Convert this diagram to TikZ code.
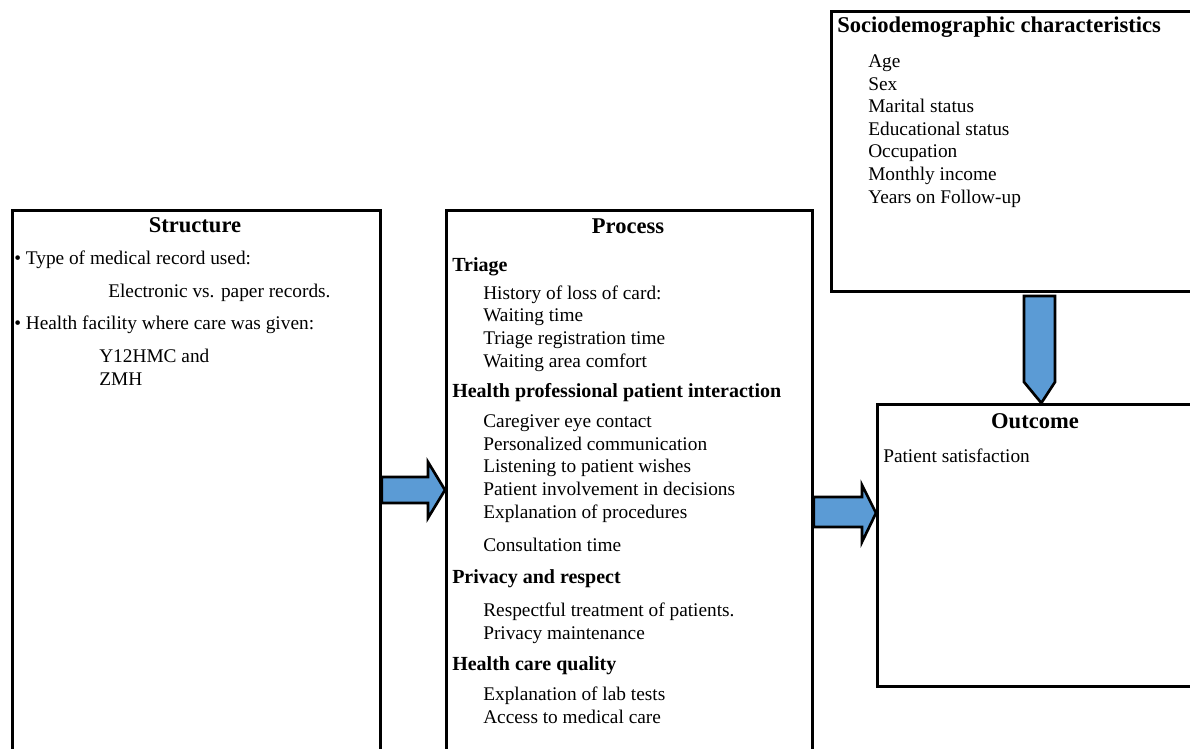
\documentclass[tikz,border=0pt]{standalone}
\usepackage{fontspec}
\setmainfont{Liberation Serif}
\definecolor{arrowblue}{HTML}{5B9BD5}

\begin{document}
\begin{tikzpicture}
  [x=0.75pt,y=-0.75pt,
   box/.style={rectangle, draw, line width=2pt, anchor=north west, inner sep=0pt},
   title/.style={font=\fontsize{16.9}{20}\selectfont\bfseries, anchor=base, inner sep=0pt},
   subhead/.style={font=\fontsize{15}{18}\selectfont\bfseries, anchor=base west, inner sep=0pt},
   items/.style={font=\fontsize{14.5}{16.9}\selectfont, align=left, anchor=base west, inner sep=0pt},
   bigarrow/.style={draw, line width=2pt, fill=arrowblue}]
  \useasboundingbox (0,0) rectangle (1190,749);
  \clip (0,0) rectangle (1190,749);

  % the four boxes
  \node[box, minimum width=276pt, minimum height=413pt] (struct) at (11,209) {};
  \node[box, minimum width=274.5pt, minimum height=413pt] (proc) at (445,209) {};
  \node[box, minimum width=277.5pt, minimum height=210pt] (socio) at (830,10) {};
  \node[box, minimum width=246pt, minimum height=211.5pt] (outcome) at (876,403) {};

  % structure (multi-line nodes sit on their last line)
  \node[title] (structtitle) at (195,232) {Structure};
  \node[items] (record) at (14,264) {\textbullet\ Type of medical record used:};
  \node[items] (records) at (108,297) {Electronic vs. paper records.};
  \node[items] (facility) at (14,329) {\textbullet\ Health facility where care was given:};
  \node[items] (sites) at (99,385) {Y12HMC and\\ZMH};

  % process
  \node[title] (proctitle) at (628,233) {Process};
  \node[subhead] (triage) at (452,271) {Triage};
  \node[items] (triageitems) at (483,367) {History of loss of card:\\Waiting time\\Triage registration time\\Waiting area comfort};
  \node[subhead] (interaction) at (452,397) {Health professional patient interaction};
  \node[items] (interactionitems) at (483,518) {Caregiver eye contact\\Personalized communication\\Listening to patient wishes\\Patient involvement in decisions\\Explanation of procedures};
  \node[items] (consult) at (483,551) {Consultation time};
  \node[subhead] (privacy) at (452,583) {Privacy and respect};
  \node[items] (privacyitems) at (483,639) {Respectful treatment of patients.\\Privacy maintenance};
  \node[subhead] (quality) at (452,670) {Health care quality};
  \node[items] (qualityitems) at (483,723) {Explanation of lab tests\\Access to medical care};

  % sociodemographic and outcome
  \node[title, anchor=base west] (sociotitle) at (837,33) {Sociodemographic characteristics};
  \node[items] (socioitems) at (868,203) {Age\\Sex\\Marital status\\Educational status\\Occupation\\Monthly income\\Years on Follow-up};
  \node[title] (outcometitle) at (1035,428) {Outcome};
  \node[items] (satisfaction) at (883,462) {Patient satisfaction};

  % block arrows
  \draw[bigarrow] (struct.east |- 0,477) -- (428,477) -- (428,462) -- (proc.west |- 0,490) -- (428,518) -- (428,503) -- (struct.east |- 0,503) -- cycle;
  \draw[bigarrow] (proc.east |- 0,497) -- (862,497) -- (862,485) -- (outcome.west |- 0,513) -- (862,542) -- (862,527) -- (proc.east |- 0,527) -- cycle;
  \draw[bigarrow] (1024,296) -- (1055,296) -- (1055,382) -- (outcome.north) -- (1024,382) -- cycle;
\end{tikzpicture}
\end{document}
